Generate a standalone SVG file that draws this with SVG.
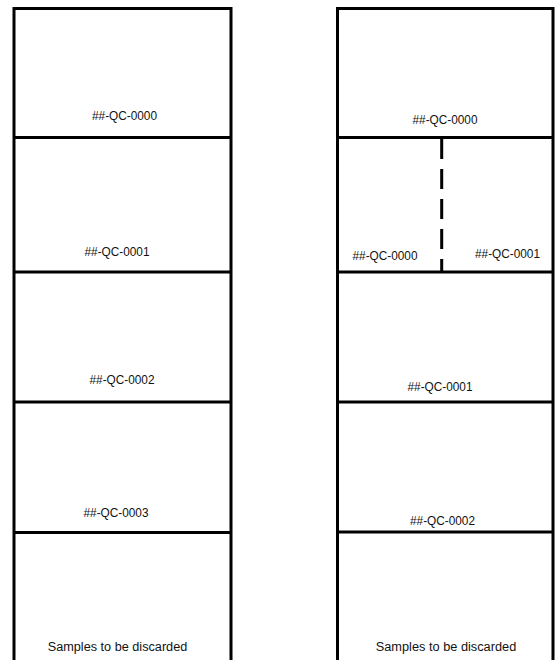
<svg xmlns="http://www.w3.org/2000/svg" width="555" height="660" viewBox="0 0 555 660">
  <style>
    .frame { fill: none; stroke: #000; stroke-width: 3; }
    .div { stroke: #000; stroke-width: 3; }
    .dash { stroke: #000; stroke-width: 3; stroke-dasharray: 20 10; }
    .lbl { font-family: "Liberation Sans", Arial, sans-serif; font-size: 12px; fill: #111; text-anchor: middle; }
  </style>
  <rect width="555" height="660" fill="#fff"/>

  <g id="left-column">
    <path class="frame" d="M14 662 V8.5 H231 V662"/>
    <line class="div" x1="14" y1="137.5" x2="231" y2="137.5"/>
    <line class="div" x1="14" y1="272" x2="231" y2="272"/>
    <line class="div" x1="14" y1="402" x2="231" y2="402"/>
    <line class="div" x1="14" y1="532.5" x2="231" y2="532.5"/>
    <g id="L-cell-0"><text class="lbl" x="124.5" y="120" textLength="65" lengthAdjust="spacingAndGlyphs">##-QC-0000</text></g>
    <g id="L-cell-1"><text class="lbl" x="117" y="256" textLength="65" lengthAdjust="spacingAndGlyphs">##-QC-0001</text></g>
    <g id="L-cell-2"><text class="lbl" x="122" y="384" textLength="65" lengthAdjust="spacingAndGlyphs">##-QC-0002</text></g>
    <g id="L-cell-3"><text class="lbl" x="116" y="516.5" textLength="65" lengthAdjust="spacingAndGlyphs">##-QC-0003</text></g>
    <g id="L-cell-4"><text class="lbl" x="117.5" y="650.5" textLength="139.5" lengthAdjust="spacingAndGlyphs">Samples to be discarded</text></g>
  </g>

  <g id="right-column">
    <path class="frame" d="M337.5 662 V8.5 H553 V662"/>
    <line class="div" x1="337.5" y1="137.5" x2="553" y2="137.5"/>
    <line class="div" x1="337.5" y1="272" x2="553" y2="272"/>
    <line class="div" x1="337.5" y1="402" x2="553" y2="402"/>
    <line class="div" x1="337.5" y1="532" x2="553" y2="532"/>
    <g id="R-cell-0"><text class="lbl" x="445" y="123.5" textLength="65" lengthAdjust="spacingAndGlyphs">##-QC-0000</text></g>
    <g id="R-cell-1">
      <line class="dash" x1="441.7" y1="139" x2="441.7" y2="271"/>
      <text class="lbl" x="385" y="259.5" textLength="65" lengthAdjust="spacingAndGlyphs">##-QC-0000</text>
      <text class="lbl" x="507.5" y="258" textLength="65" lengthAdjust="spacingAndGlyphs">##-QC-0001</text>
    </g>
    <g id="R-cell-2"><text class="lbl" x="440" y="390.5" textLength="65" lengthAdjust="spacingAndGlyphs">##-QC-0001</text></g>
    <g id="R-cell-3"><text class="lbl" x="442.5" y="525" textLength="65" lengthAdjust="spacingAndGlyphs">##-QC-0002</text></g>
    <g id="R-cell-4"><text class="lbl" x="446" y="650.5" textLength="140.5" lengthAdjust="spacingAndGlyphs">Samples to be discarded</text></g>
  </g>

  <g id="connectors"/>
</svg>
